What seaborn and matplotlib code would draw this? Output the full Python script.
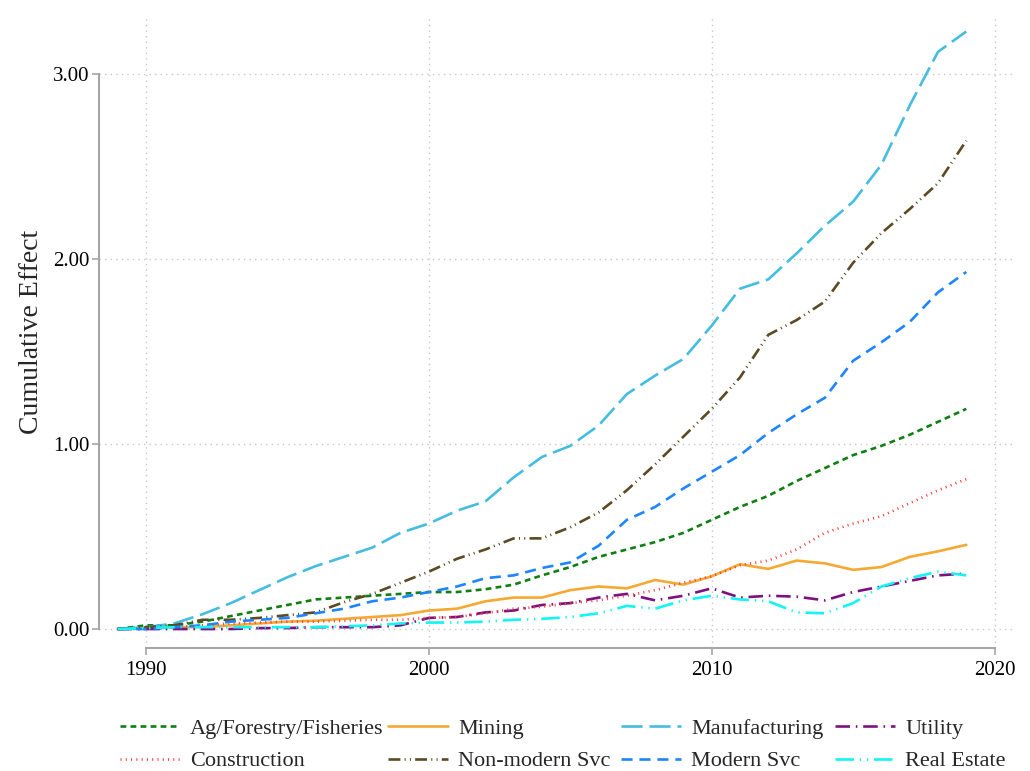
import numpy as np
import pandas as pd
import matplotlib
matplotlib.use("Agg")
import matplotlib.pyplot as plt
from matplotlib.lines import Line2D
import seaborn as sns

years = list(range(1989, 2020))

ag_forestry = [0.00, 0.02, 0.02, 0.04, 0.07, 0.10, 0.13, 0.16, 0.17, 0.18, 0.19, 0.20,
               0.20, 0.215, 0.24, 0.29, 0.335, 0.39, 0.43, 0.47, 0.52, 0.59,
               0.66, 0.72, 0.80, 0.87, 0.94, 0.99, 1.05, 1.12, 1.19]
mining = [0.00, 0.005, 0.01, 0.01, 0.02, 0.03, 0.04, 0.045, 0.055, 0.065, 0.075, 0.10,
          0.11, 0.15, 0.17, 0.17, 0.21, 0.23, 0.22, 0.265, 0.24, 0.285,
          0.35, 0.325, 0.37, 0.355, 0.32, 0.335, 0.39, 0.42, 0.455]
manufacturing = [0.00, 0.01, 0.03, 0.08, 0.14, 0.21, 0.28, 0.34, 0.39, 0.44, 0.52, 0.57,
                 0.64, 0.69, 0.82, 0.93, 0.99, 1.10, 1.27, 1.37, 1.46, 1.64,
                 1.84, 1.89, 2.03, 2.18, 2.31, 2.51, 2.83, 3.12, 3.23]
utility = [0.00, 0.00, 0.00, 0.00, 0.00, 0.005, 0.005, 0.01, 0.01, 0.01, 0.02, 0.06,
           0.065, 0.09, 0.10, 0.13, 0.14, 0.17, 0.19, 0.155, 0.18, 0.22,
           0.17, 0.18, 0.175, 0.155, 0.20, 0.23, 0.26, 0.29, 0.30]
construction = [0.00, 0.00, 0.01, 0.02, 0.03, 0.035, 0.04, 0.04, 0.045, 0.05, 0.05, 0.06,
                0.065, 0.085, 0.11, 0.12, 0.14, 0.155, 0.18, 0.21, 0.25, 0.285,
                0.345, 0.37, 0.43, 0.52, 0.57, 0.61, 0.68, 0.75, 0.81]
non_modern_svc = [0.00, 0.01, 0.02, 0.05, 0.05, 0.06, 0.075, 0.09, 0.145, 0.19, 0.25, 0.31,
                  0.38, 0.43, 0.49, 0.49, 0.55, 0.63, 0.75, 0.89, 1.04, 1.19,
                  1.36, 1.59, 1.67, 1.77, 1.98, 2.14, 2.27, 2.41, 2.64]
modern_svc = [0.00, 0.00, 0.01, 0.02, 0.04, 0.05, 0.06, 0.085, 0.11, 0.15, 0.17, 0.20,
              0.23, 0.275, 0.29, 0.33, 0.36, 0.45, 0.59, 0.66, 0.76, 0.85,
              0.94, 1.06, 1.16, 1.25, 1.45, 1.55, 1.66, 1.82, 1.93]
real_estate = [0.00, 0.005, 0.01, 0.01, 0.01, 0.01, 0.01, 0.01, 0.015, 0.02, 0.03, 0.035,
               0.035, 0.04, 0.05, 0.055, 0.065, 0.085, 0.125, 0.11, 0.155, 0.18,
               0.16, 0.15, 0.09, 0.085, 0.14, 0.23, 0.275, 0.31, 0.29]

sectors = ["Ag/Forestry/Fisheries", "Mining", "Manufacturing", "Utility",
           "Construction", "Non-modern Svc", "Modern Svc", "Real Estate"]
series = [ag_forestry, mining, manufacturing, utility,
          construction, non_modern_svc, modern_svc, real_estate]

colors = {
    "Ag/Forestry/Fisheries": "#0f7f12",
    "Mining": "#f5a933",
    "Manufacturing": "#45bde0",
    "Utility": "#7d1180",
    "Construction": "#ff3b3b",
    "Non-modern Svc": "#5b4a23",
    "Modern Svc": "#1e85ff",
    "Real Estate": "#13f4f4",
}
dash_styles = {
    "Ag/Forestry/Fisheries": (2.2, 1.6),
    "Mining": "",
    "Manufacturing": (8.0, 2.6),
    "Utility": (5.5, 2.2, 0.6, 2.2),
    "Construction": (0.4, 1.6),
    "Non-modern Svc": (4.5, 1.6, 0.4, 1.6, 0.4, 1.6),
    "Modern Svc": (4.2, 2.6),
    "Real Estate": (7.0, 2.2, 0.5, 2.2, 0.5, 2.2),
}

df = pd.DataFrame({
    "year": np.tile(years, len(sectors)),
    "value": np.concatenate(series),
    "sector": np.repeat(sectors, len(years)),
})

sns.set_style("white")
plt.rcParams["font.family"] = ["Liberation Serif", "DejaVu Serif"]

fig = plt.figure(figsize=(10.30, 7.71), dpi=100)
ax = fig.add_axes([0.0961, 0.1595, 0.889, 0.821])

sns.lineplot(data=df, x="year", y="value", hue="sector", style="sector",
             hue_order=sectors, style_order=sectors,
             palette=colors, dashes=dash_styles, linewidth=1.9,
             legend=False, ax=ax)

ax.set_xlim(1988.34, 2020.71)
ax.set_ylim(-0.1027, 3.319)
ax.set_xticks([1990, 2000, 2010, 2020])
ax.set_yticks([0, 1, 2, 3])
ax.set_yticklabels([f"{v:.2f}" for v in [0, 1, 2, 3]])
ax.set_xlabel("")
ax.set_ylabel("Cumulative Effect", fontsize=20, labelpad=6)

ax.grid(True, color="#c8c8c8", linestyle=(0, (1, 3)), linewidth=1.0)

for side in ["top", "right"]:
    ax.spines[side].set_visible(False)
for side in ["left", "bottom"]:
    ax.spines[side].set_color("#a6a6a6")
    ax.spines[side].set_linewidth(1.5)
ax.spines["left"].set_bounds(0, 3)
ax.spines["bottom"].set_bounds(1990, 2020)
ax.tick_params(axis="both", which="major", direction="out", length=5, width=1.2,
               color="#a6a6a6", labelsize=15, labelcolor="black", pad=2,
               left=True, bottom=True)
ax.tick_params(axis="x", pad=4)

# Legend laid out as four columns of two rows below the plot
by_sector = dict(zip(sectors, ax.lines[:len(sectors)]))
columns = [["Ag/Forestry/Fisheries", "Construction"],
           ["Mining", "Non-modern Svc"],
           ["Manufacturing", "Modern Svc"],
           ["Utility", "Real Estate"]]
col_x = [120, 388, 621, 835]
for cx, col in zip(col_x, columns):
    hs = []
    for s in col:
        src = by_sector[s]
        h = Line2D([], [], color=src.get_color(), linewidth=src.get_linewidth())
        d = dash_styles[s]
        if d:
            h.set_dashes(d)
        hs.append(h)
    fig.legend(hs, col, loc="upper left", bbox_to_anchor=(cx / 1030, 1 - 718 / 771),
               frameon=False, fontsize=16, handlelength=2.7, handletextpad=0.45,
               borderpad=0, borderaxespad=0, labelspacing=0.55)

fig.savefig("out.png", dpi=100)
